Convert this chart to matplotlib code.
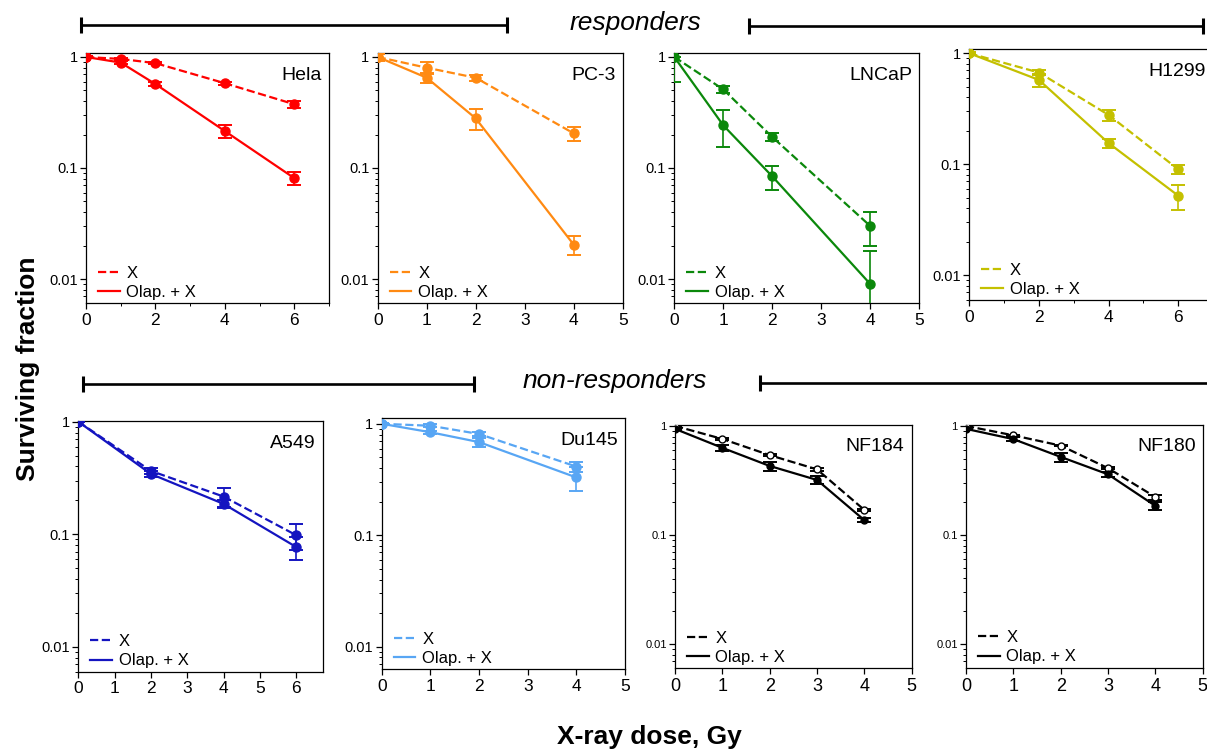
import numpy as np
import matplotlib
matplotlib.use('Agg')
import matplotlib.pyplot as plt
from matplotlib.lines import Line2D
from matplotlib.ticker import FixedLocator, LogLocator, NullFormatter

plt.rcParams['font.family'] = ['Liberation Sans', 'DejaVu Sans']

# surviving fraction data (mean and linear error)
hela_dose = [0, 1, 2, 4, 6]
hela_x = [1.0, 0.96, 0.88, 0.58, 0.375]
hela_x_err = [0.02, 0.02, 0.02, 0.02, 0.028]
hela_olap = [1.0, 0.89, 0.57, 0.215, 0.081]
hela_olap_err = [0.02, 0.03, 0.02, 0.03, 0.011]

pc3_dose = [0, 1, 2, 4]
pc3_x = [1.0, 0.80, 0.65, 0.205]
pc3_x_err = [0.075, 0.095, 0.04, 0.03]
pc3_olap = [1.0, 0.65, 0.28, 0.0204]
pc3_olap_err = [0.06, 0.065, 0.062, 0.004]

lncap_dose = [0, 1, 2, 4]
lncap_x = [1.0, 0.51, 0.19, 0.030]
lncap_x_err = [0.0, 0.04, 0.015, 0.01]
lncap_olap = [1.0, 0.242, 0.084, 0.009]
lncap_olap_err = [0.4, 0.088, 0.021, 0.0089]

h1299_dose = [0, 2, 4, 6]
h1299_x = [1.0, 0.67, 0.278, 0.090]
h1299_x_err = [0.02, 0.03, 0.031, 0.009]
h1299_olap = [1.0, 0.575, 0.155, 0.052]
h1299_olap_err = [0.02, 0.08, 0.015, 0.013]

a549_dose = [0, 2, 4, 6]
a549_x = [1.0, 0.365, 0.216, 0.098]
a549_x_err = [0.01, 0.02, 0.04, 0.025]
a549_olap = [1.0, 0.343, 0.186, 0.077]
a549_olap_err = [0.01, 0.02, 0.015, 0.018]

du145_dose = [0, 1, 2, 4]
du145_x = [1.0, 0.96, 0.81, 0.413]
du145_x_err = [0.02, 0.03, 0.04, 0.04]
du145_olap = [1.0, 0.84, 0.685, 0.33]
du145_olap_err = [0.02, 0.03, 0.06, 0.08]

nf184_dose = [0, 1, 2, 3, 4]
nf184_x = [1.0, 0.76, 0.54, 0.40, 0.17]
nf184_x_err = [0.01, 0.01, 0.01, 0.01, 0.005]
nf184_olap = [0.94, 0.63, 0.43, 0.32, 0.137]
nf184_olap_err = [0.02, 0.04, 0.04, 0.025, 0.005]

nf180_dose = [0, 1, 2, 3, 4]
nf180_x = [1.0, 0.82, 0.66, 0.41, 0.223]
nf180_x_err = [0.01, 0.01, 0.01, 0.01, 0.012]
nf180_olap = [0.94, 0.757, 0.52, 0.36, 0.185]
nf180_olap_err = [0.02, 0.03, 0.05, 0.02, 0.015]

W, H = 1207, 750
fig = plt.figure(figsize=(W / 100, H / 100), dpi=100)


def rect(l, t, r, b):
    return [l / W, 1 - b / H, (r - l) / W, (b - t) / H]


def panel(box, name, dose, xs, xe, ol, ole, color, xlim, xticks, xlabels,
          ylim, open_x=False, small=False):
    ax = fig.add_axes(rect(*box))
    ms = 5 if small else 6.5
    if open_x:
        mfc = 'white'
    else:
        mfc = color
    ax.errorbar(dose, xs, yerr=xe, color=color, ls='--', lw=1.6, marker='o',
                ms=ms, mfc=mfc, mec=color, elinewidth=1.2, capsize=5,
                capthick=1.4, zorder=3)
    ax.errorbar(dose, ol, yerr=ole, color=color, ls='-', lw=1.6, marker='o',
                ms=ms, mfc=color, mec=color, elinewidth=1.2, capsize=5,
                capthick=1.4, zorder=4)
    ax.set_yscale('log')
    ax.set_ylim(*ylim)
    ax.set_xlim(*xlim)
    ax.yaxis.set_major_locator(FixedLocator([0.01, 0.1, 1]))
    ax.set_yticklabels(['0.01', '0.1', '1'])
    ax.yaxis.set_minor_locator(LogLocator(base=10, subs=np.arange(2, 10)))
    ax.yaxis.set_minor_formatter(NullFormatter())
    ax.set_xticks(xticks)
    ax.set_xticklabels(xlabels)
    ax.set_xticks(np.arange(0, int(xlim[1]) + 1), minor=True)
    ax.tick_params(axis='both', which='major', direction='out', length=4,
                   width=0.9)
    ax.tick_params(axis='both', which='minor', direction='out', length=2.5,
                   width=0.7)
    ax.tick_params(axis='y', labelsize=8 if small else 10.5, pad=2)
    ax.tick_params(axis='x', labelsize=13 if small else 12.5, pad=3)
    for s in ax.spines.values():
        s.set_linewidth(0.9)
    ax.text(0.97, 0.91, name, transform=ax.transAxes, ha='right',
            va='center', fontsize=14)
    handles = [Line2D([], [], color=color, ls='--', lw=1.6),
               Line2D([], [], color=color, ls='-', lw=1.6)]
    ax.legend(handles, ['X', 'Olap. + X'], loc='lower left',
              bbox_to_anchor=(-0.005, -0.04), frameon=False, fontsize=12,
              handlelength=1.3, handletextpad=0.4, labelspacing=0.25,
              borderpad=0.3)
    return ax


top_ylim = (0.00608, 1.086)
panel((86, 53, 329, 303), 'Hela', hela_dose, hela_x, hela_x_err, hela_olap,
      hela_olap_err, '#ff0000', (0, 7), [0, 2, 4, 6], ['0', '2', '4', '6'],
      top_ylim)
panel((377.7, 53, 622.7, 303), 'PC-3', pc3_dose, pc3_x, pc3_x_err, pc3_olap,
      pc3_olap_err, '#ff8a12', (0, 5), range(6), [str(i) for i in range(6)],
      top_ylim)
panel((674.3, 53, 919.3, 303), 'LNCaP', lncap_dose, lncap_x, lncap_x_err,
      lncap_olap, lncap_olap_err, '#0b880b', (0, 5), range(6),
      [str(i) for i in range(6)], top_ylim)
panel((969.3, 49.3, 1213, 300), 'H1299', h1299_dose, h1299_x, h1299_x_err,
      h1299_olap, h1299_olap_err, '#c4c000', (0, 7), [0, 2, 4, 6],
      ['0', '2', '4', '6'], (0.00596, 1.086))

panel((78.3, 421, 322.7, 671.7), 'A549', a549_dose, a549_x, a549_x_err,
      a549_olap, a549_olap_err, '#1414c0', (0, 6.73), range(7),
      [str(i) for i in range(7)], (0.0060, 1.014))
panel((381.7, 418.3, 625, 669.3), 'Du145', du145_dose, du145_x, du145_x_err,
      du145_olap, du145_olap_err, '#58a6f4', (0, 5), range(6),
      [str(i) for i in range(6)], (0.00626, 1.12))
panel((675, 425, 911.7, 668.3), 'NF184', nf184_dose, nf184_x, nf184_x_err,
      nf184_olap, nf184_olap_err, 'black', (0, 5), range(6),
      [str(i) for i in range(6)], (0.00603, 1.02), open_x=True, small=True)
panel((966, 425, 1202.7, 668), 'NF180', nf180_dose, nf180_x, nf180_x_err,
      nf180_olap, nf180_olap_err, 'black', (0, 5), range(6),
      [str(i) for i in range(6)], (0.00603, 1.02), open_x=True, small=True)


def bracket(x0, x1, y):
    fig.add_artist(Line2D([x0 / W, x1 / W], [1 - y / H, 1 - y / H],
                          transform=fig.transFigure, color='black',
                          lw=1.9, marker='|', ms=11, mew=2.2))


bracket(80.7, 507.3, 25)
bracket(749, 1203, 26)
bracket(83.3, 474.3, 384)
bracket(760, 1215, 383)

fig.text(635 / W, 1 - 23 / H, 'responders', ha='center', va='center',
         fontsize=19, style='italic')
fig.text(615 / W, 1 - 381 / H, 'non-responders', ha='center', va='center',
         fontsize=19, style='italic')
fig.text(28 / W, 1 - 369 / H, 'Surviving fraction', ha='center',
         va='center', rotation=90, fontsize=19, fontweight='bold')
fig.text(649 / W, 1 - 737 / H, 'X-ray dose, Gy', ha='center', va='center',
         fontsize=19, fontweight='bold')

fig.savefig('out.png', dpi=100)
